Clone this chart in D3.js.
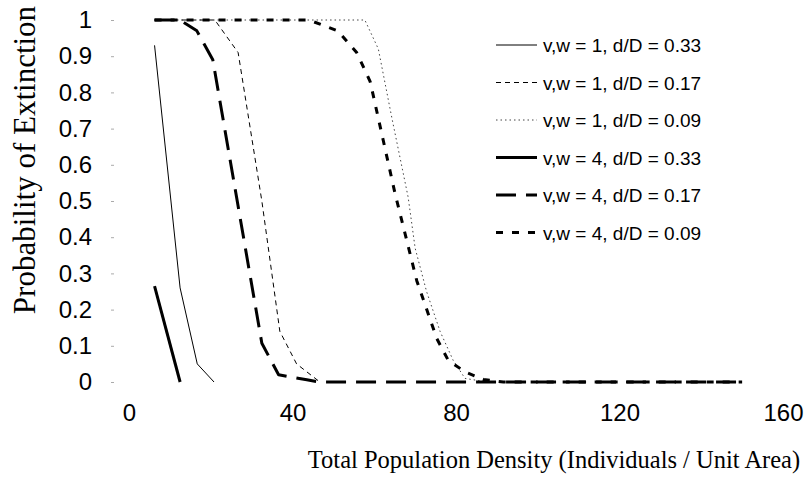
<!DOCTYPE html>
<html>
<head>
<meta charset="utf-8">
<script src="https://cdn.jsdelivr.net/npm/d3@7"></script>
<style>
  body { margin: 0; background: #fff; }
  svg { display: block; }
</style>
</head>
<body>
<script>
// ticks
const xTicks = [0, 40, 80, 120, 160];
const yTicks = [0, 0.1, 0.2, 0.3, 0.4, 0.5, 0.6, 0.7, 0.8, 0.9, 1];

// legend labels
const labels = [
  "v,w = 1, d/D = 0.33",
  "v,w = 1, d/D = 0.17",
  "v,w = 1, d/D = 0.09",
  "v,w = 4, d/D = 0.33",
  "v,w = 4, d/D = 0.17",
  "v,w = 4, d/D = 0.09"
];

// series: [density, probability]
const vw1_d33 = [[6.25, 0.93], [12.5, 0.26], [16.7, 0.05], [20.8, 0]];
const vw1_d17 = [[6.25, 1], [21, 1], [26.7, 0.91], [32.5, 0.5], [36.9, 0.14], [41, 0.05], [46.7, 0]];
const vw1_d09 = [[6.25, 1], [57.7, 1], [61, 0.92], [64.3, 0.73], [68.3, 0.51], [70, 0.37],
                 [72.8, 0.25], [76.1, 0.14], [79.3, 0.06], [82.2, 0.01], [87.5, 0]];
const vw4_d33 = [[6.25, 0.265], [12.5, 0]];
const vw4_d17 = [[6.25, 1], [12.5, 1], [16.6, 0.97], [20.5, 0.89], [32.5, 0.107], [36.6, 0.02],
                 [43.5, 0.006], [46.5, 0], [150, 0]];
const vw4_d09 = [[6.25, 1], [44, 1], [51.1, 0.97], [55.7, 0.91], [59, 0.83], [65.1, 0.52],
                 [70.4, 0.28], [75.3, 0.12], [78.1, 0.06], [82.2, 0.028], [86.7, 0.007], [91.6, 0], [150, 0]];

const series = [vw1_d33, vw1_d17, vw1_d09, vw4_d33, vw4_d17, vw4_d09];

// line styles in legend order
const styles = [
  { w: 1, dash: null, color: "#000" },
  { w: 1, dash: "5,4", color: "#000" },
  { w: 1, dash: "1.5,3", color: "#444" },
  { w: 3, dash: null, color: "#000" },
  { w: 3, dash: "20,10", color: "#000" },
  { w: 3, dash: "7,9", color: "#000" }
];

const width = 807, height = 491;
const sans = "'Liberation Sans', Arial, sans-serif";
const serif = "'Liberation Serif', 'Times New Roman', serif";

const svg = d3.select("body").append("svg")
  .attr("width", width)
  .attr("height", height);

const x = d3.scaleLinear().domain([0, 160]).range([129, 783]);
const y = d3.scaleLinear().domain([0, 1]).range([382, 20]);

// y axis: faint ticks, no line
const yAxis = svg.append("g")
  .attr("transform", "translate(114,0)")
  .call(d3.axisLeft(y).tickValues(yTicks).tickSize(3).tickPadding(19)
    .tickFormat(d => d3.format("~g")(d)));
yAxis.select(".domain").remove();
yAxis.selectAll(".tick line").attr("stroke", "#aaa");
yAxis.selectAll("text")
  .style("font-family", sans)
  .style("font-size", "24px")
  .attr("fill", "#000");

// x axis: labels only
const xAxis = svg.append("g")
  .attr("transform", "translate(0,382)")
  .call(d3.axisBottom(x).tickValues(xTicks).tickSize(0).tickPadding(22));
xAxis.select(".domain").remove();
xAxis.selectAll("text")
  .style("font-family", sans)
  .style("font-size", "24px")
  .attr("fill", "#000");

const line = d3.line()
  .x(d => x(d[0]))
  .y(d => y(d[1]));

svg.append("g")
  .selectAll("path")
  .data(series)
  .join("path")
  .attr("d", line)
  .attr("fill", "none")
  .attr("stroke", (d, i) => styles[i].color)
  .attr("stroke-width", (d, i) => styles[i].w)
  .attr("stroke-dasharray", (d, i) => styles[i].dash)
  .attr("stroke-linejoin", "round");

// legend
const legend = svg.append("g");
const rows = legend.selectAll("g")
  .data(labels)
  .join("g")
  .attr("transform", (d, i) => `translate(496,${45 + i * 37.5})`);

rows.append("line")
  .attr("x1", 0)
  .attr("x2", 41)
  .attr("stroke", (d, i) => styles[i].color)
  .attr("stroke-width", (d, i) => styles[i].w)
  .attr("stroke-dasharray", (d, i) => styles[i].dash);

rows.append("text")
  .attr("x", 47)
  .attr("y", 7)
  .style("font-family", sans)
  .style("font-size", "19px")
  .text(d => d);

// axis titles
svg.append("text")
  .attr("transform", "translate(35,160) rotate(-90)")
  .attr("text-anchor", "middle")
  .style("font-family", serif)
  .style("font-size", "31px")
  .text("Probability of Extinction");

svg.append("text")
  .attr("x", 554)
  .attr("y", 468)
  .attr("text-anchor", "middle")
  .style("font-family", serif)
  .style("font-size", "24.5px")
  .text("Total Population Density (Individuals / Unit Area)");
</script>
</body>
</html>
